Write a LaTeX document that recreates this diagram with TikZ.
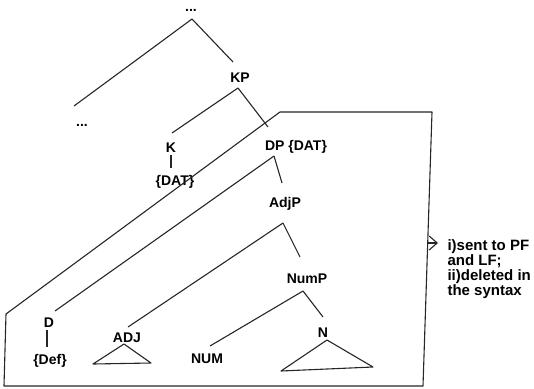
\documentclass[tikz,border=0pt]{standalone}
\usepackage{fontspec}
\setmainfont{Liberation Sans}
\usetikzlibrary{arrows.meta}

\begin{document}
\begin{tikzpicture}[x=1pt, y=-1pt, line width=1.1pt, line join=round,
    lbl/.style={font=\fontsize{14}{14}\selectfont\bfseries, inner sep=0pt, text height=10pt, text depth=0pt},
    branch/.style={draw=black!85},
    arr/.style={-{Straight Barb[length=8pt,width=14pt]}, draw=black!85}]
    \useasboundingbox (0,0) rectangle (534,388);

    % Labels of the tree
    \node[lbl, anchor=base] (top) at (191,12) {...};
    \node[lbl, anchor=base] (low) at (82,126) {...};
    \node[lbl] (kp) at (240,77) {KP};
    \node[lbl] (k) at (171,147) {K};
    \node[lbl] (kdat) at (175,180) {\{DAT\}};
    \node[lbl] (dp) at (296,145) {DP \{DAT\}};
    \node[lbl] (adjp) at (285,202) {AdjP};
    \node[lbl] (nump) at (307,278) {NumP};
    \node[lbl] (d) at (49,322) {D};
    \node[lbl] (def) at (50,359) {\{Def\}};
    \node[lbl] (adj) at (127,337) {ADJ};
    \node[lbl] (num) at (207,358) {NUM};
    \node[lbl] (n) at (323,332) {N};

    % Branching points and branch ends
    \coordinate (top-b) at (192,19);
    \coordinate (low-t) at (74,106);
    \coordinate (kp-t) at (233,62);
    \coordinate (kp-b) at (238,88);
    \coordinate (k-t) at (172,133);
    \coordinate (k-b) at (171,155);
    \coordinate (kdat-t) at (171,168);
    \coordinate (dp-t) at (268,127);
    \coordinate (dp-b) at (274,156);
    \coordinate (d-t) at (55,311);
    \coordinate (d-b) at (47,330);
    \coordinate (def-t) at (47,347);
    \coordinate (adjp-t) at (282,183);
    \coordinate (adjp-b) at (283,223);
    \coordinate (adj-t) at (128,327);
    \coordinate (adj-b) at (124,344);
    \coordinate (nump-t) at (300,257);
    \coordinate (nump-b) at (303,291);
    \coordinate (num-t) at (210,346);
    \coordinate (n-t) at (323,317);
    \coordinate (n-b) at (327,340);

    % Branches
    \draw[branch] (top-b) -- (low-t);
    \draw[branch] (top-b) -- (kp-t);
    \draw[branch] (kp-b) -- (k-t);
    \draw[branch] (kp-b) -- (dp-t);
    \draw[branch] (k-b) -- (kdat-t);
    \draw[branch] (dp-b) -- (d-t);
    \draw[branch] (dp-b) -- (adjp-t);
    \draw[branch] (d-b) -- (def-t);
    \draw[branch] (adjp-b) -- (adj-t);
    \draw[branch] (adjp-b) -- (nump-t);
    \draw[branch] (nump-b) -- (num-t);
    \draw[branch] (nump-b) -- (n-t);

    % Triangles
    \draw[branch] (adj-b) -- (93,364) -- (151,363) -- cycle;
    \draw[branch] (n-b) -- (281,371) -- (373,367) -- cycle;

    % Box round the DP
    \draw[branch] (280,112) -- (432,112) -- (423,386) -- (4,386) -- (6,314) -- cycle;

    % Note
    \node[lbl, text height=, text depth=, align=left, anchor=north west,
          font=\fontsize{15}{15}\selectfont\bfseries] (note) at (447,239.5)
        {i)sent to PF\\and LF;\\ii)deleted in\\the syntax};
    \coordinate (box-e) at (427.7,243);
    \draw[arr, shorten >=9pt] (box-e) -- (box-e -| note.west);
\end{tikzpicture}
\end{document}
